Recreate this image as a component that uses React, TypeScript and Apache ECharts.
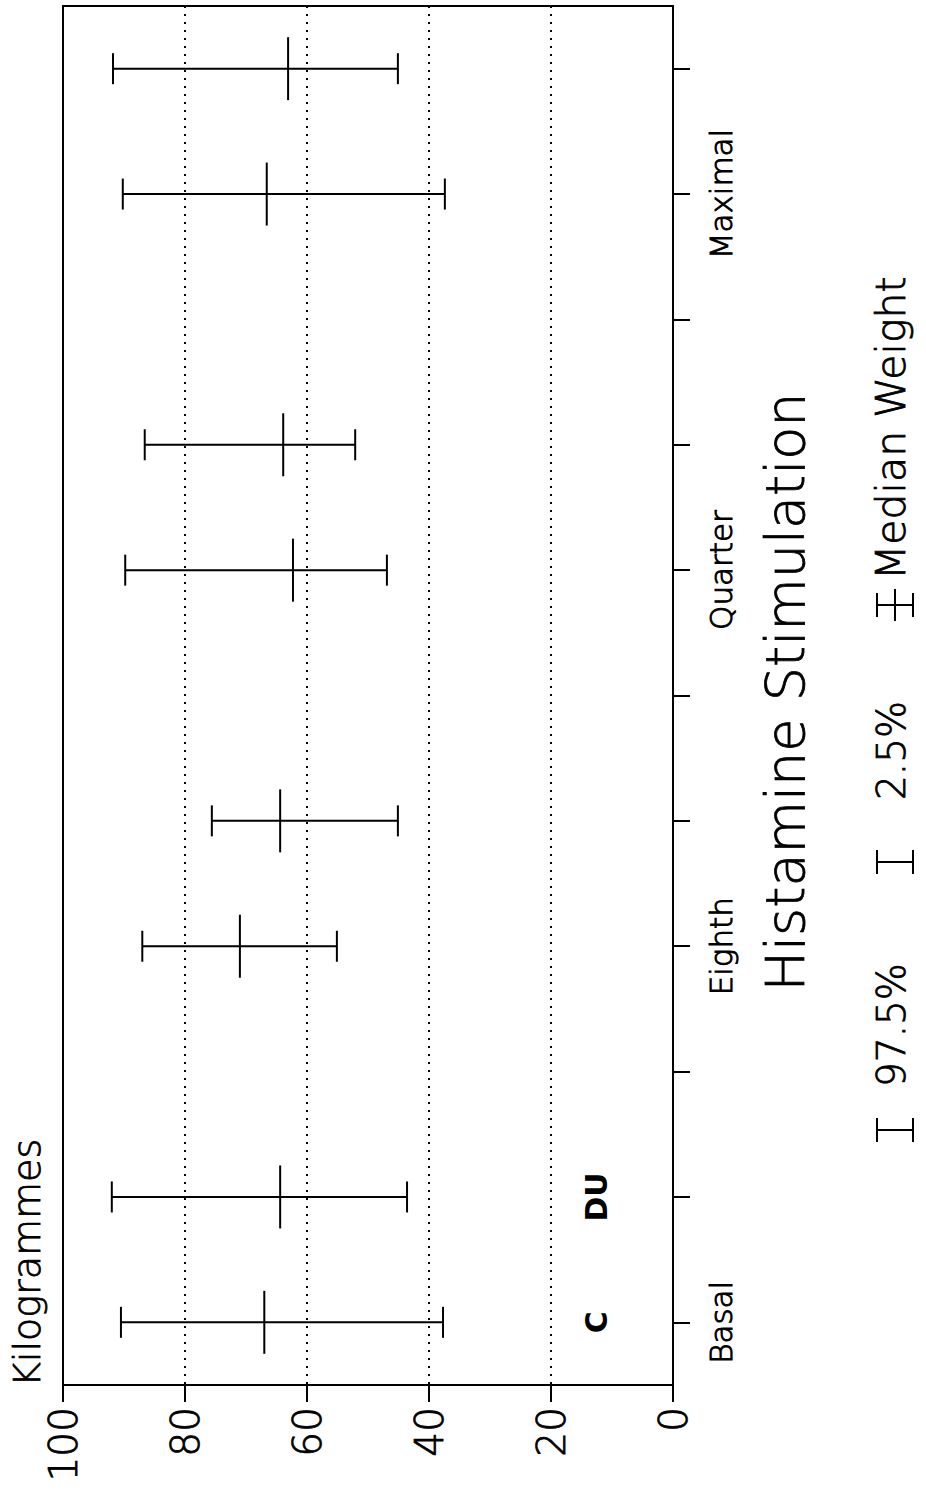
import React, { useEffect, useRef } from "react";
import * as echarts from "echarts";

// ---- data ----
const categories = [
  "Basal C", "Basal DU", "gap1",
  "Eighth C", "Eighth DU", "gap2",
  "Quarter C", "Quarter DU", "gap3",
  "Maximal C", "Maximal DU",
];
const categoryLabels = ["Basal", "", "", "Eighth", "", "", "Quarter", "", "", "Maximal", ""];
const barCategoryIndex = [0, 1, 3, 4, 6, 7, 9, 10];
const lower25 = [37.7, 43.6, 55.1, 45.1, 46.9, 52.1, 37.4, 45.1];
const medianWeight = [67.0, 64.4, 71.0, 64.4, 62.3, 63.9, 66.6, 63.1];
const upper975 = [90.5, 92.0, 87.0, 75.6, 89.8, 86.6, 90.2, 91.8];
const groupNames = ["C", "DU"];
const groupNameCategory = [0, 1];
const groupNameValue = 12.6;
const valueTicks = [0, 20, 40, 60, 80, 100];

const FONT = "DejaVu Sans";

export default function App() {
  const ref = useRef<HTMLDivElement>(null);
  useEffect(() => {
    if (!ref.current) return;
    const chart = echarts.init(ref.current, undefined, { renderer: "svg" });
    const lineStyle = { stroke: "#000", lineWidth: 2 };
    const barData = barCategoryIndex.map((c, i) => [c, lower25[i], medianWeight[i], upper975[i]]);
    const legendStem = (cy: number, median: boolean) => {
      const els: any[] = [
        { type: "line", shape: { x1: 877, y1: cy, x2: 913, y2: cy }, style: lineStyle },
        { type: "line", shape: { x1: 877, y1: cy - 12, x2: 877, y2: cy + 12 }, style: lineStyle },
        { type: "line", shape: { x1: 913, y1: cy - 12, x2: 913, y2: cy + 12 }, style: lineStyle },
      ];
      if (median) els.push({ type: "line", shape: { x1: 895, y1: cy - 16, x2: 895, y2: cy + 16 }, style: lineStyle });
      return els;
    };
    const vtext = (x: number, y: number, text: string, size: number, align: string, weight: any = "normal", border = 0.8) => ({
      type: "text",
      x,
      y,
      rotation: Math.PI / 2,
      style: {
        text,
        fill: "#000",
        stroke: "#000",
        lineWidth: border,
        fontSize: size,
        fontFamily: FONT,
        fontWeight: weight,
        textAlign: align,
        align,
        textVerticalAlign: "top",
        verticalAlign: "top",
      },
    });
    chart.setOption({
      animation: false,
      backgroundColor: "#fff",
      grid: {
        left: 63,
        right: 253,
        top: 6,
        bottom: 107,
        show: true,
        borderColor: "#000",
        borderWidth: 2,
        backgroundColor: "transparent",
      },
      xAxis: {
        type: "value",
        min: valueTicks[0],
        max: valueTicks[valueTicks.length - 1],
        interval: 20,
        inverse: true,
        position: "bottom",
        axisLine: { show: true, lineStyle: { color: "#000", width: 2 } },
        axisTick: { show: true, length: 17, lineStyle: { color: "#000", width: 2 } },
        axisLabel: {
          rotate: 90,
          margin: 22,
          color: "#000",
          fontSize: 39,
          fontFamily: FONT,
          fontWeight: 200,
          textBorderColor: "#000",
          textBorderWidth: 0.8,
        },
        splitLine: { show: true, lineStyle: { color: "#000", width: 2, type: [2, 6] } },
      },
      yAxis: {
        type: "category",
        data: categories,
        position: "right",
        axisLine: { show: true, lineStyle: { color: "#000", width: 2 } },
        axisTick: { show: true, length: 17, alignWithLabel: true, interval: 0, lineStyle: { color: "#000", width: 2 } },
        axisLabel: {
          interval: 0,
          rotate: 90,
          margin: 32,
          color: "#000",
          fontSize: 31,
          fontFamily: FONT,
          fontWeight: 200,
          textBorderColor: "#000",
          textBorderWidth: 1,
          formatter: (_v: string, idx: number) => categoryLabels[idx],
        },
        splitLine: { show: false },
      },
      series: [
        {
          type: "custom",
          data: barData,
          encode: { x: [1, 2, 3], y: 0 },
          renderItem: (_params: any, api: any) => {
            const cat = api.value(0);
            const lo = api.coord([api.value(1), cat]);
            const md = api.coord([api.value(2), cat]);
            const hi = api.coord([api.value(3), cat]);
            const y = lo[1];
            const cap = 15.5;
            const mcap = 31.5;
            return {
              type: "group",
              children: [
                { type: "line", shape: { x1: lo[0], y1: y, x2: hi[0], y2: y }, style: lineStyle },
                { type: "line", shape: { x1: lo[0], y1: y - cap, x2: lo[0], y2: y + cap }, style: lineStyle },
                { type: "line", shape: { x1: hi[0], y1: y - cap, x2: hi[0], y2: y + cap }, style: lineStyle },
                { type: "line", shape: { x1: md[0], y1: y - mcap, x2: md[0], y2: y + mcap }, style: lineStyle },
              ],
            };
          },
        },
        {
          type: "custom",
          data: groupNameCategory.map((c) => [groupNameValue, c]),
          encode: { x: 0, y: 1 },
          renderItem: (params: any, api: any) => {
            const p = api.coord([api.value(0), api.value(1)]);
            return {
              type: "text",
              x: p[0],
              y: p[1],
              rotation: Math.PI / 2,
              style: {
                text: groupNames[params.dataIndex],
                fill: "#000",
                fontSize: 30,
                fontFamily: FONT,
                fontWeight: "bold",
                textAlign: "center",
                align: "center",
                textVerticalAlign: "middle",
                verticalAlign: "middle",
              },
            };
          },
        },
      ],
      graphic: [
        vtext(8, 1387, "Kilogrammes", 38, "left", 200),
        vtext(758, 692, "Histamine Stimulation", 54, "center", 200),
        ...legendStem(1130, false),
        vtext(872, 1087, "97.5%", 39, "left", 200),
        ...legendStem(862, false),
        vtext(872, 800, "2.5%", 39, "left", 200),
        ...legendStem(605, true),
        vtext(870, 580, "Median Weight", 41, "left", 200),
      ],
    });
    return () => chart.dispose();
  }, []);
  return <div ref={ref} style={{ position: "absolute", left: 0, top: 0, width: 926, height: 1492 }} />;
}
